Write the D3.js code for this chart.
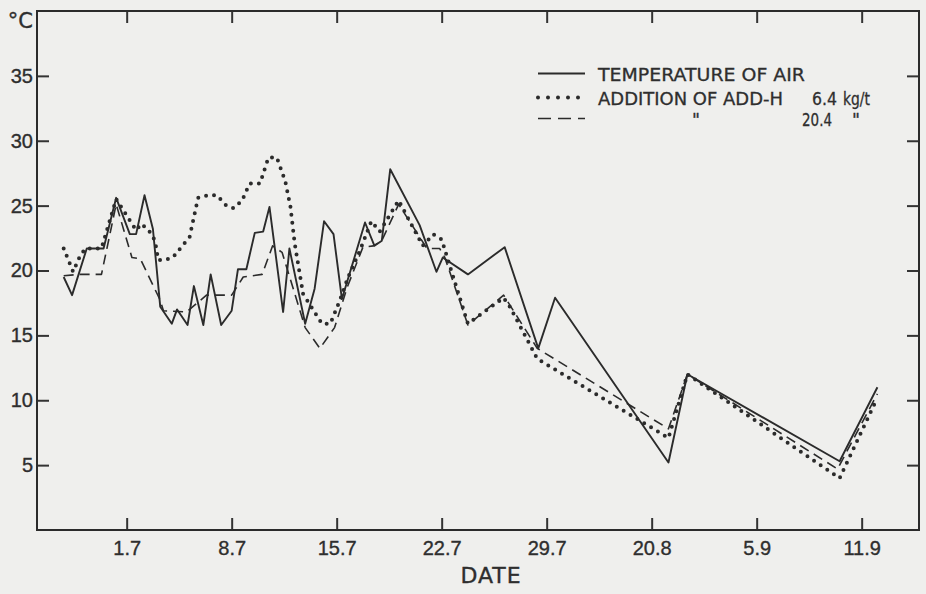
<!DOCTYPE html>
<html>
<head>
<meta charset="utf-8">
<script src="https://cdn.jsdelivr.net/npm/d3@7"></script>
<style>
  body { margin: 0; background: #efefed; }
  svg { display: block; font-family: "DejaVu Sans", sans-serif; }
  .axis text { font-size: 20px; fill: #2e2e2e; stroke: #2e2e2e; stroke-width: 0.35px; }
  .axis line { stroke: #333; stroke-width: 2; }
  .legend text { font-size: 17.4px; fill: #2e2e2e; stroke: #2e2e2e; stroke-width: 0.3px; }
</style>
</head>
<body>
<svg id="chart" width="926" height="594"></svg>
<script>
// x positions are in tick intervals along the date axis (0 = 1.7, 1 = 8.7 ...)
var dateLabels = ['1.7', '8.7', '15.7', '22.7', '29.7', '20.8', '5.9', '11.9'];
var tempTicks = [5, 10, 15, 20, 25, 30, 35];

// temperature of air
var airX = [-0.60, -0.52, -0.38, -0.22, -0.10, 0.03, 0.09, 0.17, 0.25, 0.32, 0.43, 0.48, 0.58, 0.64, 0.73, 0.80, 0.90, 1.00,
            1.06, 1.14, 1.22, 1.30, 1.36, 1.49, 1.55, 1.70, 1.79, 1.88, 1.97, 2.05, 2.27, 2.36, 2.43, 2.51, 2.79, 2.95,
            3.01, 3.25, 3.60, 3.92, 4.08, 5.16, 5.34, 6.79, 7.15];
var airT = [19.5, 18.1, 21.7, 21.7, 25.6, 22.8, 22.8, 25.8, 23.2, 17.2, 15.9, 17.0, 15.8, 18.8, 15.8, 19.7, 15.8, 16.9,
            20.1, 20.1, 22.9, 23.0, 24.9, 16.8, 21.7, 15.9, 18.6, 23.8, 22.8, 17.8, 23.7, 21.9, 22.3, 27.8, 23.5, 19.9,
            21.0, 19.7, 21.8, 14.0, 17.9, 5.2, 12.0, 5.3, 11.0];

// ADD-H 6.4 kg/t
var lowX = [-0.60, -0.51, -0.44, -0.39, -0.24, -0.10, 0.05, 0.09, 0.14, 0.21, 0.27, 0.30, 0.36, 0.44, 0.60, 0.68, 0.78, 0.86,
            0.95, 1.02, 1.10, 1.17, 1.27, 1.35, 1.43, 1.51, 1.56, 1.60, 1.68, 1.86, 1.94, 2.03, 2.11, 2.22, 2.33, 2.41,
            2.59, 2.82, 2.92, 3.00, 3.11, 3.25, 3.59, 3.65, 3.91, 5.16, 5.34, 6.79, 7.15];
var lowT = [21.7, 19.9, 21.2, 21.7, 21.7, 25.5, 23.6, 23.1, 23.6, 23.1, 22.3, 20.8, 20.8, 21.0, 22.6, 25.6, 25.8, 25.8,
            25.0, 24.8, 25.4, 26.7, 26.7, 28.7, 28.7, 26.9, 24.9, 22.1, 18.2, 15.9, 15.9, 17.7, 19.5, 21.5, 23.8, 23.0,
            25.4, 21.9, 22.8, 22.4, 19.5, 15.9, 17.9, 17.2, 13.2, 7.1, 12.0, 4.0, 10.2];

// ADD-H 20.4 kg/t
var highX = [-0.60, -0.44, -0.24, -0.10, 0.05, 0.13, 0.32, 0.35, 0.57, 0.76, 1.00, 1.11, 1.29, 1.39, 1.48, 1.70, 1.84, 1.98,
             2.10, 2.25, 2.35, 2.43, 2.59, 2.86, 2.98, 3.03, 3.25, 3.59, 3.91, 5.16, 5.34, 6.77, 7.15];
var highT = [19.6, 19.7, 19.7, 25.1, 21.0, 20.9, 17.7, 16.9, 16.8, 18.1, 18.1, 19.5, 19.7, 21.9, 21.4, 15.6, 14.0, 15.6,
             18.7, 21.8, 21.9, 22.3, 25.1, 21.7, 21.7, 21.0, 15.8, 18.1, 14.0, 7.8, 12.0, 4.7, 10.5];

var ink = '#2b2b2b';
var svg = d3.select('#chart');
var plot = { left: 37, right: 919, top: 11, bottom: 530 };

var x = d3.scaleLinear()
    .domain([-0.854, 7.546])
    .range([plot.left, plot.right]);

var y = d3.scaleLinear()
    .domain([0, 40])
    .range([plot.bottom, plot.top]);

var tickIdx = d3.range(dateLabels.length);

// axes, ticks pointing inwards on all four sides
svg.append('g')
    .attr('class', 'axis')
    .attr('transform', 'translate(' + plot.left + ',0)')
    .call(d3.axisLeft(y).tickValues(tempTicks).tickSize(-12).tickPadding(4));

svg.append('g')
    .attr('class', 'axis')
    .attr('transform', 'translate(' + plot.right + ',0)')
    .call(d3.axisRight(y).tickValues(tempTicks).tickSize(-12).tickFormat(''));

svg.append('g')
    .attr('class', 'axis')
    .attr('transform', 'translate(0,' + plot.bottom + ')')
    .call(d3.axisBottom(x).tickValues(tickIdx).tickSize(-12).tickPadding(11)
        .tickFormat(function(d, i) { return dateLabels[i]; }));

svg.append('g')
    .attr('class', 'axis')
    .attr('transform', 'translate(0,' + plot.top + ')')
    .call(d3.axisTop(x).tickValues(tickIdx).tickSize(-12).tickFormat(''));

svg.selectAll('.axis .domain').remove();

svg.append('rect')
    .attr('x', plot.left)
    .attr('y', plot.top)
    .attr('width', plot.right - plot.left)
    .attr('height', plot.bottom - plot.top)
    .attr('fill', 'none')
    .attr('stroke', ink)
    .attr('stroke-width', 2);

svg.append('text')
    .attr('x', 33).attr('y', 28)
    .attr('text-anchor', 'end')
    .style('font-size', '21px').style('fill', '#2e2e2e')
    .style('stroke', '#2e2e2e').style('stroke-width', '0.35px')
    .text('°C');

svg.append('text')
    .attr('x', 491).attr('y', 583)
    .attr('text-anchor', 'middle')
    .style('font-size', '22px').style('letter-spacing', '1px').style('fill', '#2e2e2e')
    .style('stroke', '#2e2e2e').style('stroke-width', '0.35px')
    .text('DATE');

// series
var line = d3.line()
    .x(function(d) { return x(d[0]); })
    .y(function(d) { return y(d[1]); });

var styles = {
    air:  { width: 1.9, dash: null, cap: 'butt' },
    low:  { width: 4, dash: '0 8', cap: 'round' },
    high: { width: 1.6, dash: '10 6', cap: 'butt' }
};

var series = [
    { key: 'high', pts: d3.zip(highX, highT) },
    { key: 'air', pts: d3.zip(airX, airT) },
    { key: 'low', pts: d3.zip(lowX, lowT) }
];

svg.selectAll('.series')
    .data(series)
  .enter().append('path')
    .attr('class', 'series')
    .attr('d', function(d) { return line(d.pts); })
    .attr('fill', 'none')
    .attr('stroke', ink)
    .attr('stroke-linejoin', 'round')
    .attr('stroke-width', function(d) { return styles[d.key].width; })
    .attr('stroke-dasharray', function(d) { return styles[d.key].dash; })
    .attr('stroke-linecap', function(d) { return styles[d.key].cap; });

// legend
var legend = svg.append('g').attr('class', 'legend');
var legendRows = [
    { key: 'air', y: 73.5, texts: [[598, 'TEMPERATURE OF AIR', 207]] },
    { key: 'low', y: 97.5, texts: [[598, 'ADDITION OF ADD-H', 185], [812, '6.4', 25], [843, 'kg/t', 27]] },
    { key: 'high', y: 118.5, texts: [[692, '"', 0], [802, '20.4', 30], [852, '"', 0]] }
];

legendRows.forEach(function(r) {
    var st = styles[r.key];
    legend.append('line')
        .attr('x1', 538).attr('x2', r.key == 'low' ? 588 : 585)
        .attr('y1', r.y).attr('y2', r.y)
        .attr('stroke', ink)
        .attr('stroke-width', st.width)
        .attr('stroke-dasharray', r.key == 'low' ? '0 10' : (r.key == 'high' ? '13 7' : null))
        .attr('stroke-linecap', st.cap);
    r.texts.forEach(function(t) {
        var txt = legend.append('text')
            .attr('x', t[0])
            .attr('y', r.y + 7.3)
            .text(t[1]);
        if (t[2]) txt.attr('textLength', t[2]).attr('lengthAdjust', 'spacingAndGlyphs');
    });
});
</script>
</body>
</html>
